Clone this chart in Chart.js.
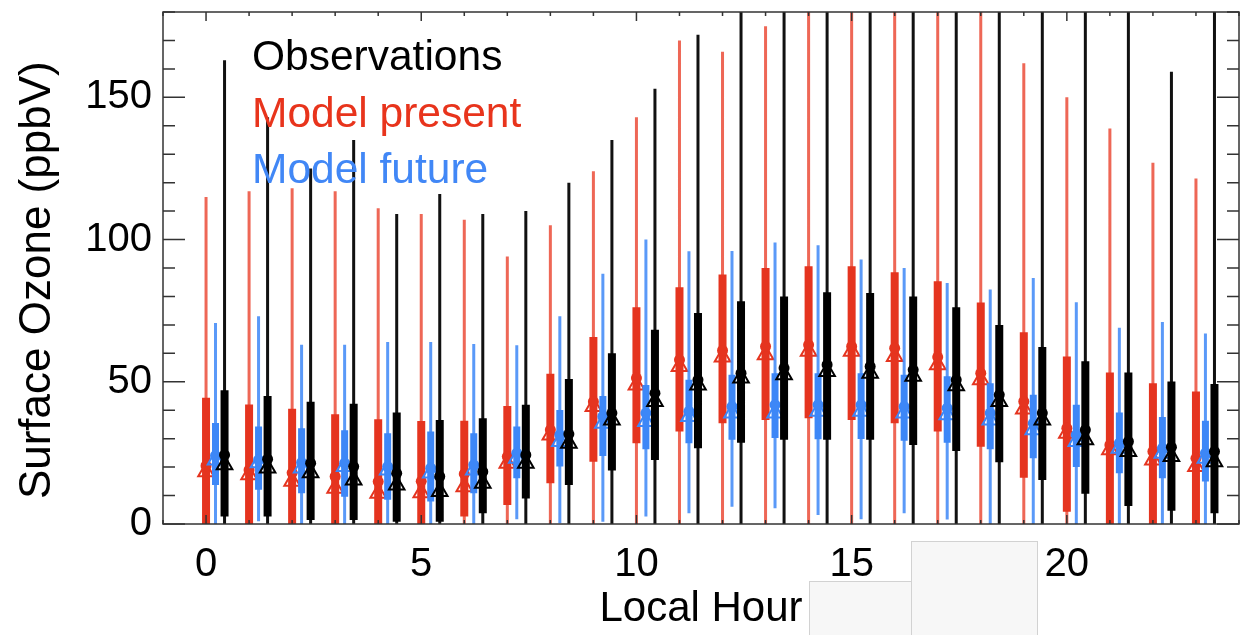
<!DOCTYPE html>
<html>
<head>
<meta charset="utf-8">
<script src="https://cdn.jsdelivr.net/npm/chart.js@4.4.1/dist/chart.umd.min.js"></script>
<style>
    body { margin: 0; background: #fff; }
    #contenedor { position: relative; width: 1250px; height: 635px; }
    .parche { position: absolute; background: #f7f7f7; border: 1px solid #d2d2d2; box-sizing: border-box; }
</style>
</head>
<body>
<div id="contenedor">
    <canvas id="graficaOzono"></canvas>
    <div class="parche" style="left:809px;top:581px;width:103px;height:60px"></div>
    <div class="parche" style="left:911px;top:541px;width:127px;height:100px"></div>
</div>
<script>
// hora local 0..23
const horas = [0, 1, 2, 3, 4, 5, 6, 7, 8, 9, 10, 11, 12, 13, 14, 15, 16, 17, 18, 19, 20, 21, 22, 23];
const ticksX = [0, 5, 10, 15, 20];
const ticksY = [0, 50, 100, 150];
const leyenda = ["Observations", "Model present", "Model future"];

// Model present (rojo)
const presMax = [115, 117, 118, 117, 111, 109, 107, 94, 105, 124, 143, 170, 166, 175, 200, 200, 200, 200, 200, 162, 150, 139, 127, 121.5];
const presQ3 = [44.4, 42, 40.5, 38.6, 36.8, 36.2, 36.3, 41.5, 52.8, 65.7, 76.2, 83.2, 87.7, 90, 90.6, 90.6, 88.5, 85.3, 77.9, 67.4, 58.9, 53.3, 49.5, 46.6];
const presMediana = [20.5, 19, 18, 16.7, 14.9, 15, 17.6, 23.7, 33.1, 43, 51.3, 57.7, 61, 62.4, 63, 62.4, 61.8, 58.7, 53, 43.1, 33.7, 27.8, 25.5, 23.1];
const presMedia = [18.4, 17.3, 15, 12.6, 10.8, 11, 13.1, 21.4, 31.3, 41.3, 48.9, 55.4, 58.7, 59.5, 60.7, 60.7, 58.9, 56, 50.7, 40.4, 31.9, 26.1, 22.5, 20.2];
const presQ1 = [0, 0, 0, 0, 0, 0, 2.6, 6.7, 14.3, 21.9, 28.4, 32.5, 35.4, 36.6, 37.2, 36.6, 35.4, 32.5, 27.2, 16.3, 4.3, 0, 0, 0];
const presMin = [0, 0, 0, 0, 0, 0, 0, 0, 0, 0, 0, 0, 0, 0, 0, 0, 0, 0, 0, 0, 0, 0, 0, 0];

// Model future (azul)
const futMax = [70.7, 73, 63, 63, 64, 64, 63.3, 62.8, 73, 88, 100, 95.9, 96, 99, 98, 93, 90, 84.7, 82.4, 86.5, 78, 69, 71, 67];
const futQ3 = [35.5, 34.3, 33.7, 33, 31.9, 32.5, 31.9, 34.3, 40.1, 45, 48.9, 50.7, 52.5, 53, 53, 53, 52.5, 51.9, 49.5, 45.4, 41.9, 39.2, 37.6, 36.3];
const futMediana = [24, 22.5, 21.6, 21.4, 20.2, 19.6, 20.8, 24.9, 31.3, 37.8, 39, 39.6, 41.3, 41.9, 41.9, 41.9, 41.3, 40.7, 39, 35.4, 31.3, 28.4, 26.6, 24.9];
const futMedia = [22.5, 21.5, 19.7, 20.2, 19, 17.9, 19, 23.1, 29, 35.4, 36, 37.8, 39, 39, 39.6, 39.6, 39, 38.4, 36.6, 33.1, 29, 26.6, 24.9, 23.1];
const futQ1 = [13.7, 12, 10.8, 9.6, 8.5, 7.9, 10.8, 16.1, 20.2, 23.9, 26.3, 28.4, 29.6, 30.2, 29.8, 29.9, 29.3, 28.6, 26.3, 23.1, 20, 17.8, 16.1, 14.9];
const futMin = [0, 1, 0, 0, 0, 0, 0, 1.7, 0.3, 0.8, 2.6, 3.8, 6.1, 5.5, 3.2, 1.7, 3.8, 1.6, 0, 0, 0, 0, 0, 0];

// Observations (negro)
const obsMax = [163, 143, 125, 135, 109, 116, 109, 110, 120, 135, 153, 172, 200, 200, 200, 200, 200, 200, 200, 200, 200, 200, 159, 200];
const obsQ3 = [47, 45, 43, 42.3, 39.2, 36.6, 37.2, 41.9, 51, 60, 68.3, 74.2, 78.3, 80, 81.5, 81.2, 80, 76.2, 70, 62.2, 57.2, 53.3, 50.1, 49.2];
const obsMediana = [24.3, 22.8, 21.4, 20.2, 17.8, 16.7, 18.4, 24.3, 31.6, 39, 46, 50.7, 53, 54.8, 56, 55.4, 54.2, 50.7, 45.4, 39, 33.1, 29, 27, 25.5];
const obsMedia = [20.8, 19.7, 18, 15.5, 13.7, 11.4, 14.3, 21.4, 28.4, 36.6, 43.1, 48.9, 51.3, 52.5, 53.6, 53, 51.9, 48.6, 43.1, 36.6, 29.6, 25.5, 23.7, 21.9];
const obsQ1 = [2.6, 2.6, 1.4, 1.4, 0.8, 0.8, 3.8, 9, 13.7, 18.8, 22.5, 26.6, 28.6, 29.6, 29.6, 29.6, 27.8, 25.7, 21.7, 15.5, 10.6, 6.3, 4.7, 3.8];
const obsMin = [0, 0, 0, 0, 0, 0, 0, 0, 0, 0, 0, 0, 0, 0, 0, 0, 0, 0, 0, 0, 0, 0, 0, 0];

const fuente = '"Liberation Sans", Arial, Helvetica, sans-serif';

function segmentos(desfase, bajo, alto) {
    let puntos = [];
    horas.forEach((h, i) => {
        puntos.push({ x: h + desfase, y: bajo[i] });
        puntos.push({ x: h + desfase, y: alto[i] });
        puntos.push({ x: h + desfase, y: null });
    });
    return puntos;
}

function puntosSerie(desfase, valores) {
    return horas.map((h, i) => ({ x: h + desfase, y: valores[i] }));
}

function grupo(desfase, colorBigote, colorCaja, anchoCaja, min, q1, q3, max, media, mediana) {
    return [
        { data: segmentos(desfase, min, max), borderColor: colorBigote, borderWidth: 3, pointRadius: 0, spanGaps: false },
        { data: segmentos(desfase, q1, q3), borderColor: colorCaja, borderWidth: anchoCaja, pointRadius: 0, spanGaps: false },
        { data: puntosSerie(desfase, media), showLine: false, pointStyle: "triangle", pointRadius: 9, borderWidth: 2, pointBorderColor: colorCaja, pointBackgroundColor: "rgba(0,0,0,0)" },
        { data: puntosSerie(desfase, mediana), showLine: false, pointStyle: "circle", pointRadius: 5.5, borderWidth: 0, pointBorderColor: colorCaja, pointBackgroundColor: colorCaja },
    ];
}

let conjuntos = [].concat(
    grupo(0, "rgba(232,52,30,0.75)", "#e5341f", 8, presMin, presQ1, presQ3, presMax, presMedia, presMediana),
    grupo(0.22, "rgba(61,135,247,0.85)", "#3d87f7", 7, futMin, futQ1, futQ3, futMax, futMedia, futMediana),
    grupo(0.43, "#111", "#000", 8, obsMin, obsQ1, obsQ3, obsMax, obsMedia, obsMediana)
);
// el primero se dibuja primero (abajo)
conjuntos.forEach((c, i) => { c.order = conjuntos.length - i; });

const marco = {
    id: "marco",
    afterDraw(chart) {
        const { ctx, chartArea: a, scales: { x, y } } = chart;
        ctx.save();
        ctx.strokeStyle = "#333";
        ctx.lineWidth = 1.5;
        ctx.strokeRect(a.left, a.top, a.right - a.left, a.bottom - a.top);
        ctx.beginPath();
        for (let h = -1; h <= 24; h++) {
            const px = x.getPixelForValue(h);
            const largo = h % 5 === 0 ? 9 : 4;
            ctx.moveTo(px, a.bottom); ctx.lineTo(px, a.bottom - largo);
            ctx.moveTo(px, a.top); ctx.lineTo(px, a.top + largo);
        }
        for (let v = 0; v <= 180; v += 10) {
            const py = y.getPixelForValue(v);
            const largo = v % 50 === 0 ? 22 : 12;
            ctx.moveTo(a.left, py); ctx.lineTo(a.left + largo, py);
            ctx.moveTo(a.right, py); ctx.lineTo(a.right - largo, py);
        }
        ctx.stroke();

        const colores = ["#000", "#e8341c", "#4187f6"];
        const lineasBase = [70, 127, 183];
        ctx.font = "42.5px " + fuente;
        ctx.textBaseline = "alphabetic";
        leyenda.forEach((t, i) => {
            ctx.fillStyle = colores[i];
            ctx.fillText(t, 252, lineasBase[i]);
        });
        ctx.restore();
    },
};

const ctx = document.getElementById("graficaOzono");
const grafica = new Chart(ctx, {
    type: "line",
    data: { datasets: conjuntos },
    options: {
        responsive: true,
        maintainAspectRatio: false,
        animation: false,
        events: [],
        layout: { padding: { top: 12, right: 1, left: 0, bottom: 0 } },
        plugins: { legend: { display: false }, tooltip: { enabled: false } },
        scales: {
            x: {
                type: "linear",
                min: -1,
                max: 24,
                grid: { display: false, drawTicks: false },
                border: { display: false },
                afterBuildTicks: (eje) => { eje.ticks = ticksX.map((v) => ({ value: v })); },
                afterFit: (eje) => { eje.height = 111; eje.paddingLeft = 0; eje.paddingRight = 0; },
                ticks: { color: "#000", font: { family: fuente, size: 40 }, padding: 17, autoSkip: false, maxRotation: 0 },
                title: { display: true, text: "Local Hour", color: "#000", font: { family: fuente, size: 42 }, padding: { top: 0, bottom: 0 } },
            },
            y: {
                min: 0,
                max: 180,
                grid: { display: false, drawTicks: false },
                border: { display: false },
                afterBuildTicks: (eje) => { eje.ticks = ticksY.map((v) => ({ value: v })); },
                afterFit: (eje) => { eje.width = 163; eje.paddingTop = 0; eje.paddingBottom = 0; },
                ticks: { color: "#000", font: { family: fuente, size: 40 }, padding: 11, autoSkip: false },
                title: { display: true, text: "Surface Ozone (ppbV)  ", color: "#000", font: { family: fuente, size: 44 }, padding: { top: 11, bottom: 0 } },
            },
        },
    },
    plugins: [marco],
});
</script>
</body>
</html>
